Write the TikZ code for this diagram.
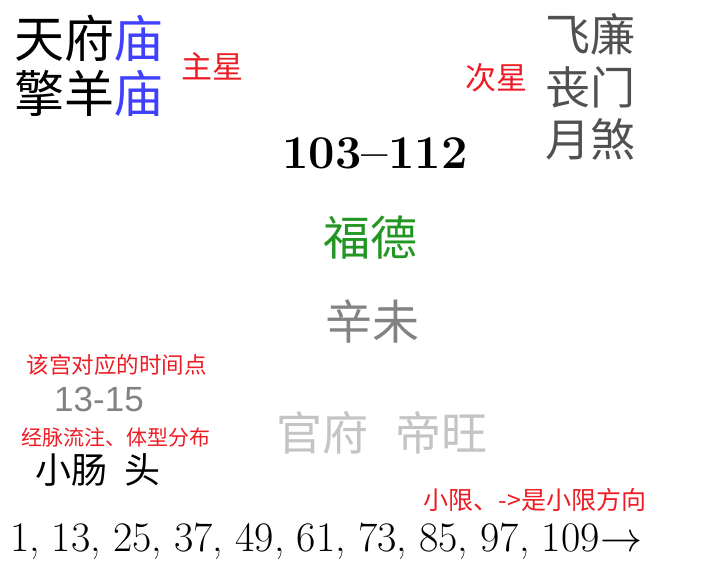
\RequirePackage{fix-cm}
\documentclass[tikz,border=0pt]{standalone}
\usepackage{fontspec}
\newfontfamily\cjk{Noto Sans CJK SC}
\newfontfamily\numsans{Liberation Sans}
\newcommand\fsz[1]{\fontsize{#1}{#1}\selectfont}
\newcommand\cs{,\hspace{0.29em}}
\definecolor{lblred}{RGB}{237,28,36}
\definecolor{miaoblue}{RGB}{64,64,255}
\definecolor{fdgreen}{RGB}{34,150,34}
\definecolor{midgray}{RGB}{130,130,130}
\definecolor{lightgray2}{RGB}{196,196,196}
\definecolor{stargray}{RGB}{80,80,80}
\tikzset{
  txt/.style={inner sep=0pt, outer sep=0pt, anchor=center},
  mainstar/.style={txt, font=\cjk\fsz{50}, text=black},
  minorstar/.style={txt, font=\cjk\fsz{45}, text=stargray},
  redlabel/.style={txt, font=\cjk\fsz{#1}, text=lblred},
  bigcjk/.style={txt, font=\cjk\fsz{47}}
}
\begin{document}
\begin{tikzpicture}[x=1pt,y=-1pt]
\fill[white] (0,0) rectangle (715,577);
\useasboundingbox (0,0) rectangle (715,577);
% main stars
\node[mainstar] (ms1) at (89,38) {天府\textcolor{miaoblue}{庙}};
\node[mainstar] (ms2) at (89,93) {擎羊\textcolor{miaoblue}{庙}};
\node[redlabel=31] (zx) at (212,66) {主星};
% minor stars
\node[minorstar] (ns1) at (590,34) {飞廉};
\node[minorstar] (ns2) at (590,87) {丧门};
\node[minorstar] (ns3) at (590,139) {月煞};
\node[redlabel=31] (cx) at (496,78) {次星};
% center column
\node[txt, font=\bfseries\fsz{47}] (age) at (375,153) {103--112};
\node[bigcjk, text=fdgreen] (fd) at (370,238) {福德};
\node[bigcjk, text=midgray] (xw) at (372,321) {辛未};
\node[bigcjk, text=lightgray2, font=\cjk\fsz{46}] (gf) at (382,433) {官府\hspace{0.6em}帝旺};
% left lower
\node[redlabel=22.5] (sj) at (117,365) {该宫对应的时间点};
\node[txt, font=\numsans\fsz{35}, text=midgray] (hr) at (99,399) {13-15};
\node[redlabel=21] (jm) at (116,438) {经脉流注、体型分布};
\node[txt, font=\cjk\fsz{36}] (xc) at (98,470) {小肠\hspace{0.45em}头};
% bottom
\node[redlabel=25] (xx) at (535,500) {小限、->是小限方向};
\node[txt, anchor=base west, font=\fsz{42}] (nums) at (10,551) {1\cs 13\cs 25\cs 37\cs 49\cs 61\cs 73\cs 85\cs 97\cs 109\kern0.02em$\rightarrow$};
\end{tikzpicture}
\end{document}
